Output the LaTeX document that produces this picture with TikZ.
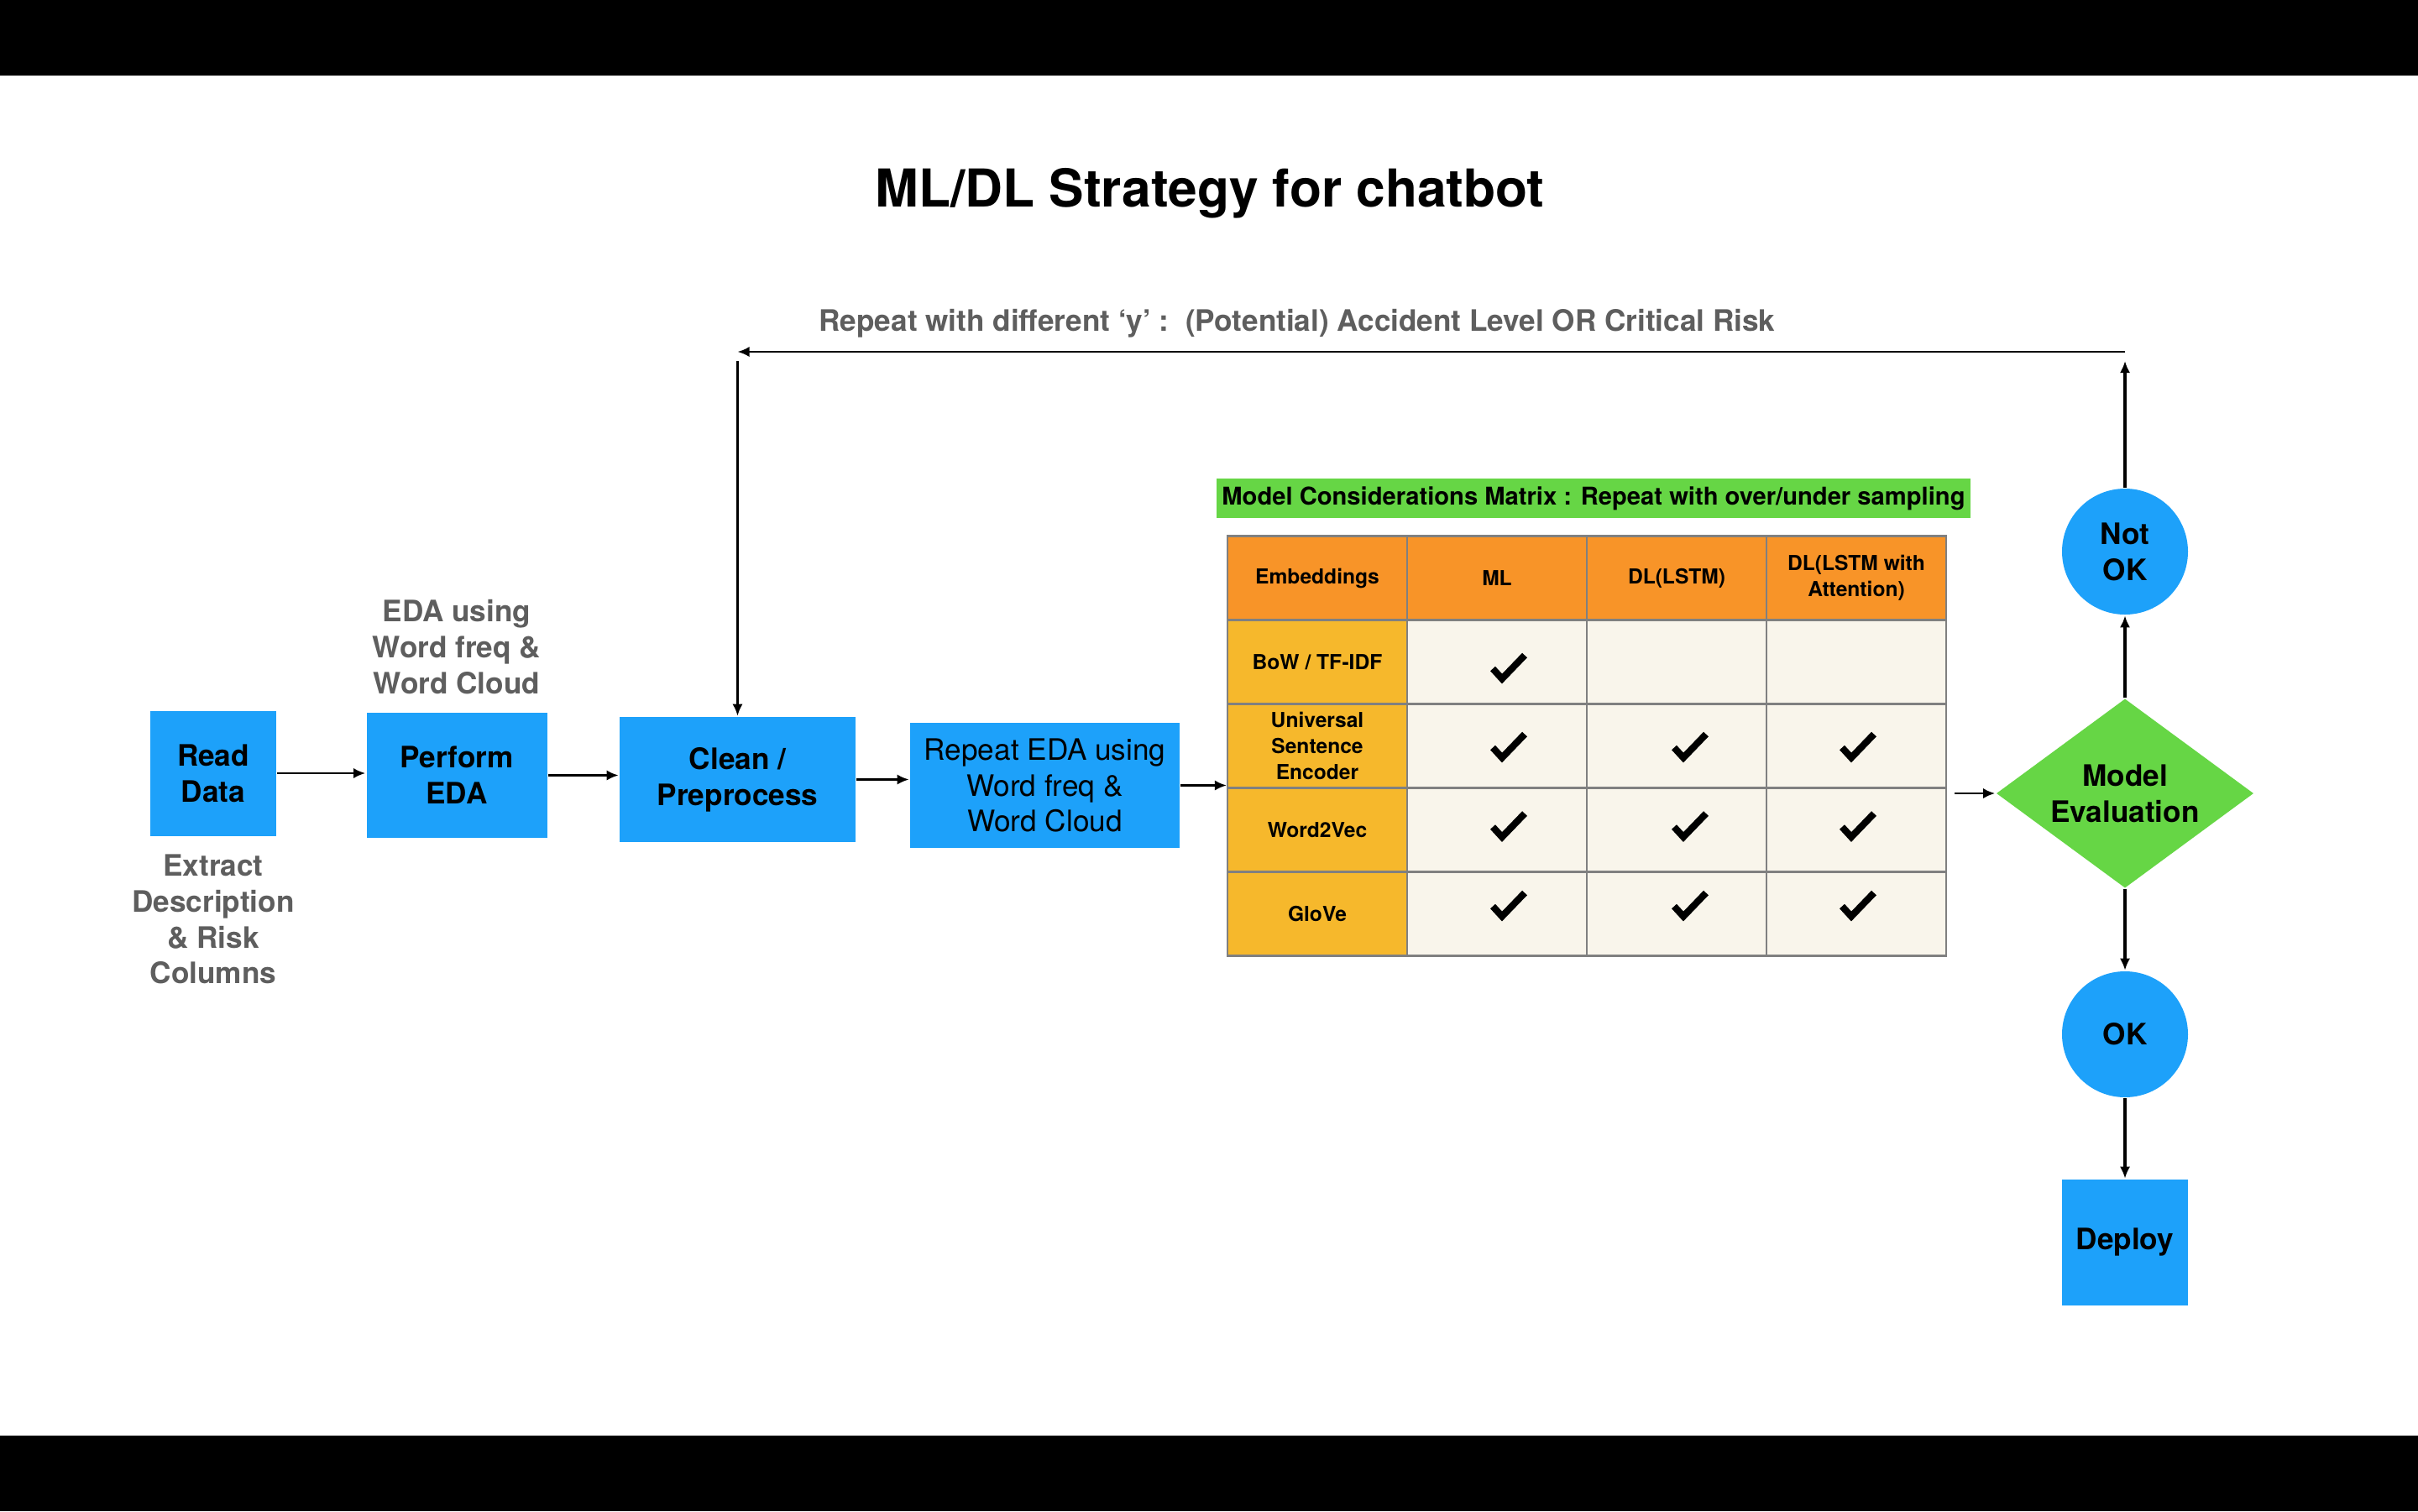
\documentclass[tikz,border=0pt]{standalone}
\usepackage{fontspec}
\setmainfont{TeX Gyre Heros}
\usetikzlibrary{arrows.meta, positioning, shapes.geometric, calc}

\definecolor{boxblue}{RGB}{29,161,250}
\definecolor{evalgreen}{RGB}{102,214,69}
\definecolor{hdrorange}{RGB}{248,148,40}
\definecolor{embgold}{RGB}{246,184,44}
\definecolor{cellcream}{RGB}{249,245,235}
\definecolor{notegray}{RGB}{94,94,94}
\definecolor{gridgray}{RGB}{128,128,128}

\tikzset{
  proc/.style={rectangle, fill=boxblue, minimum height=1.49cm, inner sep=2pt, align=center,
    font=\fontsize{10}{12.2}\selectfont\bfseries},
  decision/.style={diamond, fill=evalgreen, shape aspect=1.36, minimum width=3.07cm,
    minimum height=2.26cm, inner sep=0pt, align=center, font=\fontsize{10}{12.2}\selectfont\bfseries},
  verdict/.style={circle, fill=boxblue, minimum size=1.5cm, inner sep=0pt, align=center,
    font=\fontsize{10}{12.2}\selectfont\bfseries},
  note/.style={align=center, text=notegray, font=\fontsize{10}{12.2}\selectfont\bfseries},
  headline/.style={font=\fontsize{17.7}{21}\selectfont\bfseries},
  tcell/.style={rectangle, draw=gridgray, line width=0.6pt, fill=cellcream, minimum width=2.14cm,
    minimum height=1.0cm, inner sep=1pt, align=center, font=\fontsize{7}{8.8}\selectfont\bfseries},
  chkmark/.pic={\draw[line width=2.3pt, miter limit=10] (-0.18,-0.02) -- (-0.07,-0.14) -- (0.20,0.14);}
}

\begin{document}
\begin{tikzpicture}[>={Latex[length=4pt,width=3.5pt]}, line width=0.75pt, on grid]
        \fill[white] (0,0) rectangle (28.8,-18);
        \useasboundingbox (0,0) rectangle (28.8,-18);
        \fill[black] (0,0) rectangle (28.8,-0.9);
        \fill[black] (0,-17.1) rectangle (28.8,-18);

        \node[headline] (ttl) at (14.41,-2.30) {ML/DL Strategy for chatbot};
        \node[note] (looplabel) at (15.45,-3.85) {Repeat with different ‘y’ :\ \ (Potential) Accident Level OR Critical Risk};

        \node[proc, minimum width=1.50cm] (read) at (2.54,-9.21) {Read\\Data};
        \node[proc, minimum width=2.15cm] (perform) [below right=0.025cm and 2.90cm of read] {Perform\\EDA};
        \node[proc, minimum width=2.81cm] (clean) [below right=0.05cm and 3.345cm of perform] {Clean /\\Preprocess};
        \node[proc, minimum width=3.21cm, font=\fontsize{10}{12.2}\selectfont] (repeat) [below right=0.07cm and 3.66cm of clean] {Repeat EDA using\\Word freq \&\\Word Cloud};
        \node[note] (edanote) [above=1.53cm of perform] {EDA using\\Word freq \&\\Word Cloud};
        \node[note] (extractnote) [below=1.74cm of read] {Extract\\Description\\\& Risk\\Columns};

        \node[rectangle, fill=evalgreen, minimum width=8.98cm, minimum height=0.47cm, inner sep=0pt,
          font=\fontsize{8.3}{10}\selectfont\bfseries] (banner) at (18.98,-5.935)
          {Model Considerations Matrix : Repeat with over/under sampling};
        \foreach \r in {2,...,5}
          \foreach \c in {2,3,4}
            \node[tcell] (tbl-\r-\c) at ({15.69+(\c-1)*2.14},{-6.885-(\r-1)*1.0}) {};
        \foreach \txt [count=\r] in {Embeddings, {BoW / TF-IDF}, {Universal\\Sentence\\Encoder}, Word2Vec, GloVe}
          \node[tcell, fill=embgold] (tbl-\r-1) at (15.69,{-6.885-(\r-1)*1.0}) {\txt};
        \node[tcell, fill=hdrorange] at (tbl-1-1) {Embeddings};
        \foreach \txt [count=\c from 2] in {ML, DL(LSTM), {DL(LSTM with\\Attention)}}
          \node[tcell, fill=hdrorange] (tbl-1-\c) at ({15.69+(\c-1)*2.14},-6.885) {\txt};
        \foreach \cellname/\dx/\dy in {2-2/0.13/-0.06, 3-2/0.13/0, 3-3/0.15/0, 3-4/0.01/0,
            4-2/0.13/0.055, 4-3/0.15/0.055, 4-4/0.01/0.055, 5-2/0.13/0.11, 5-3/0.15/0.11, 5-4/0.01/0.11}
          \pic at ([xshift=\dx cm, yshift=\dy cm]tbl-\cellname.center) {chkmark};

        \node[decision] (eval) at (25.31,-9.45) {Model\\Evaluation};
        \node[verdict] (notok) [above=2.88cm of eval] {Not\\OK};
        \node[verdict] (ok) [below=2.87cm of eval] {OK};
        \node[proc, minimum width=1.5cm, minimum height=1.5cm] (deploy) [below=2.48cm of ok] {Deploy};

        \coordinate[above=2.38cm of notok] (fbR);
        \coordinate (fbL) at (clean |- fbR);

        \path[->]
        (read) edge (read -| perform.west)
        (perform) edge (perform -| clean.west)
        (clean) edge (clean -| repeat.west)
        (repeat) edge (repeat -| tbl-3-1.west)
        (tbl-3-4.east |- eval) edge [shorten <=0.09cm] (eval)
        (eval) edge [line width=1pt] (notok)
        (eval) edge [line width=1pt] (ok)
        (ok) edge [line width=1pt] (deploy)
        (notok) edge [line width=1pt, shorten >=0.11cm] (fbR)
        (fbR) edge (fbL)
        (fbL) edge [shorten <=0.11cm] (clean)
        ;
    \end{tikzpicture}
\end{document}
